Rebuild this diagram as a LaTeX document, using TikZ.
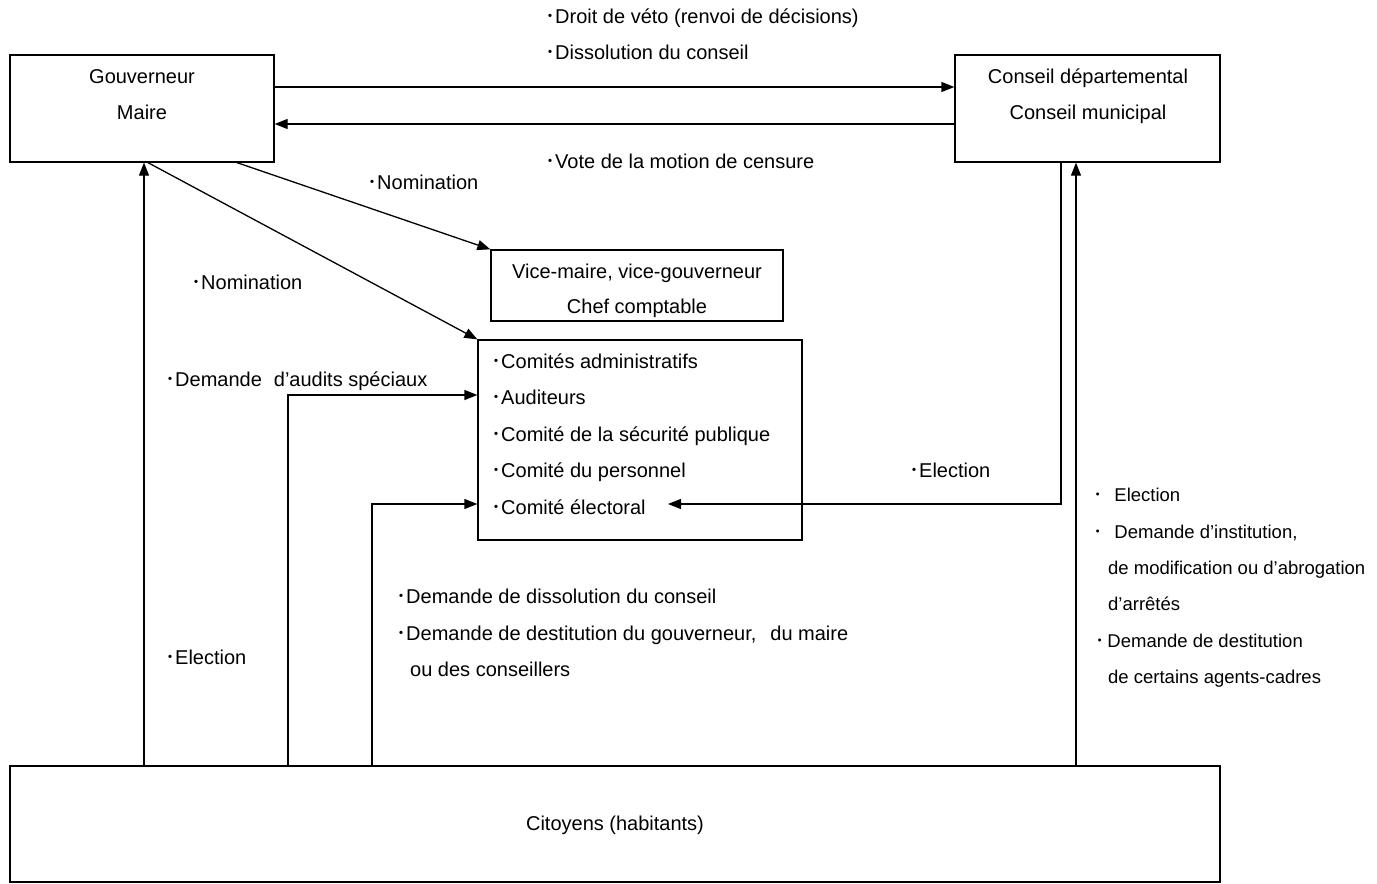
\documentclass[tikz,border=0pt]{standalone}
\usepackage{fontspec}
\setmainfont{Liberation Sans}
\newfontfamily\cjkfont{Noto Sans CJK JP}
\usetikzlibrary{arrows.meta}
\newcommand\bul{{\cjkfont ･}}
\begin{document}
\begin{tikzpicture}[x=1pt,y=-1pt,
  box/.style={draw, line width=1.3pt, inner sep=0pt},
  txt/.style={inner sep=0pt, anchor=base west, font=\fontsize{20}{24}\selectfont},
  rtxt/.style={inner sep=0pt, anchor=base west, font=\fontsize{18.5}{22}\selectfont},
  ctxt/.style={inner sep=0pt, anchor=base, font=\fontsize{20}{24}\selectfont},
  arr/.style={line width=1.3pt, -{Triangle[length=13pt,width=10pt]}},
  ln/.style={line width=1.3pt}]
\useasboundingbox (0,0) rectangle (1377,884);
% boxes
\node[box, minimum width=264pt, minimum height=107pt] (gov) at (142,108.5) {};
\node[box, minimum width=265pt, minimum height=107pt] (cons) at (1087.5,108.5) {};
\node[box, minimum width=292pt, minimum height=71pt] (vice) at (637,285.5) {};
\node[box, minimum width=324pt, minimum height=200pt] (com) at (640,440) {};
\node[box, minimum width=1210pt, minimum height=116pt] (cit) at (615,824) {};
% box texts
\node[ctxt] (govA) at (142,83) {Gouverneur};
\node[ctxt] (govB) at (142,119) {Maire};
\node[ctxt] (consA) at (1088,83) {Conseil départemental};
\node[ctxt] (consB) at (1088,119) {Conseil municipal};
\node[ctxt] (viceA) at (637,278) {Vice-maire, vice-gouverneur};
\node[ctxt] (viceB) at (637,313) {Chef comptable};
\node[txt] (comA) at (491,368) {\bul Comités administratifs};
\node[txt] (comB) at (491,404) {\bul Auditeurs};
\node[txt] (comC) at (491,441) {\bul Comité de la sécurité publique};
\node[txt] (comD) at (491,477) {\bul Comité du personnel};
\node[txt] (comE) at (491,514) {\bul Comité électoral};
\node[ctxt] (citT) at (615,830) {Citoyens (habitants)};
% labels
\node[txt] (lDroit) at (545,23) {\bul Droit de véto (renvoi de décisions)};
\node[txt] (lDiss) at (545,59) {\bul Dissolution du conseil};
\node[txt] (lVote) at (545,168) {\bul Vote de la motion de censure};
\node[txt] (lNom1) at (367,189) {\bul Nomination};
\node[txt] (lNom2) at (191,289) {\bul Nomination};
\node[txt] (lAud) at (165,386) {\bul Demande\hspace{12pt}d’audits spéciaux};
\node[txt] (lElC) at (909,477) {\bul Election};
\node[txt] (lElG) at (165,664) {\bul Election};
\node[txt] (lB1) at (396,603) {\bul Demande de dissolution du conseil};
\node[txt] (lB2) at (396,640) {\bul Demande de destitution du gouverneur,\hspace{14pt}du maire};
\node[txt] (lB3) at (410,676) {ou des conseillers};
\node[rtxt] (lR1) at (1093,501) {\bul\hspace{12pt}Election};
\node[rtxt] (lR2) at (1093,538) {\bul\hspace{12pt}Demande d’institution,};
\node[rtxt] (lR3) at (1108,574) {de modification ou d’abrogation};
\node[rtxt] (lR4) at (1108,610) {d’arrêtés};
\node[rtxt] (lR5) at (1095,647) {\bul\hspace{3pt}Demande de destitution};
\node[rtxt] (lR6) at (1108,683) {de certains agents-cadres};
% connectors
\coordinate (eltip) at (668,504);
\draw[arr] (gov.east |- 0,87) -- (cons.west |- 0,87);
\draw[arr] (cons.west |- 0,124) -- (gov.east |- 0,124);
\draw[arr] (gov.south -| 237,0) -- (vice.north west);
\draw[arr] (gov.south -| 148,0) -- (com.north west);
\draw[arr] (cit.north -| 144,0) -- (gov.south -| 144,0);
\draw[arr] (cit.north -| 288,0) |- (com.west |- 0,395);
\draw[arr] (cit.north -| 372,0) |- (com.west |- 0,504);
\draw[arr] (cons.south -| 1061,0) |- (eltip);
\draw[arr] (cit.north -| 1076,0) -- (cons.south -| 1076,0);
\end{tikzpicture}
\end{document}
